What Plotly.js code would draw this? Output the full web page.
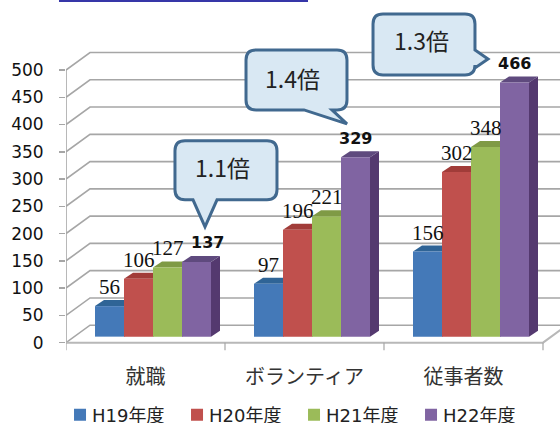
<!DOCTYPE html>
<html><head><meta charset="utf-8">
<script src="https://cdn.plot.ly/plotly-3.0.1.min.js"></script>
<style>html,body{margin:0;padding:0;background:#fff}</style>
</head><body><div id="chart" style="width:560px;height:423px"></div>
<script>
const categories = ['就職','ボランティア','従事者数'];
const seriesNames = ['H19年度','H20年度','H21年度','H22年度'];
const h19 = [56,97,156];
const h20 = [106,196,302];
const h21 = [127,221,348];
const h22 = [137,329,466];
const yTicks = [0,50,100,150,200,250,300,350,400,450,500];
const frontColors = ['#4479b8','#c0504d','#9bbb59','#8064a2'];
const topColors = ['#2f6496','#a13c39','#7f9a45','#5f4a7e'];
const sideColor = '#54396f';
const gridColor = '#a6a6a6';
const callouts = [
 {text:'1.1倍',cx:222,cy:167},{text:'1.4倍',cx:292,cy:78},{text:'1.3倍',cx:422,cy:40}
];
const all = [h19,h20,h21,h22];

// geometry
const W=560,H=423,L=66,T=40,S=0.546,yMin=-30,yMax=555,catW=159,xc0=145.5;
const plotH=(yMax-yMin)*S, B=H-T-plotH, plotW=W-L;
const xMin=-0.5,xMax=xMin+plotW/catW;
const px=p=>+((p-L)/plotW).toFixed(4), py=p=>+((T+plotH-p)/plotH).toFixed(4);
const wallDx=24/catW, wallDy=32;
const barBase=11, barW=29/catW, groupLeft=(95-xc0)/catW, dDx=9/catW, dDy=11;

const shapes=[];
function pathShape(path,o){shapes.push(Object.assign({type:'path',xref:'x',yref:'y',path:path,layer:'below'},o));}
const line={color:gridColor,width:1.6};
// wall grid
yTicks.forEach(v=>{
  pathShape(`M${xMin},${v} L${xMin+wallDx},${v+wallDy} L${xMax},${v+wallDy}`,{line:line});
});
// left vertical and floor
pathShape(`M${xMin},0 L${xMin},500`,{line:line});
pathShape(`M${xMin},0 L2.5,0 L${2.5+wallDx},${wallDy}`,{line:{color:'#b8b8b8',width:2}});
[-0.5,0.5,1.5,2.5].forEach(b=>pathShape(`M${b},0 L${b},-14`,{line:{color:gridColor,width:1.2}}));
// 3D faces under the front faces
all.forEach((vals,s)=>{
  vals.forEach((v,i)=>{
    const x0=i+groupLeft+s*barW,x1=x0+barW,t=barBase+v;
    pathShape(`M${x1},${barBase} L${x1+dDx},${barBase+dDy} L${x1+dDx},${t+dDy} L${x1},${t} Z`,
      {fillcolor:sideColor,line:{width:0}});
    pathShape(`M${x0},${t} L${x0+dDx},${t+dDy} L${x1+dDx},${t+dDy} L${x1},${t} Z`,
      {fillcolor:topColors[s],line:{width:0}});
  });
});
// callouts in pixel layout
function callout(l,r,t,b,tail){
  const q=10;
  let d=`M${px(l+q)},${py(t)} L${px(r-q)},${py(t)} Q${px(r)},${py(t)} ${px(r)},${py(t+q)} `;
  if(tail.side==='right') d+=tail.pts.map(p=>`L${px(p[0])},${py(p[1])} `).join('');
  d+=`L${px(r)},${py(b-q)} Q${px(r)},${py(b)} ${px(r-q)},${py(b)} `;
  if(tail.side==='bottom') d+=tail.pts.map(p=>`L${px(p[0])},${py(p[1])} `).join('');
  d+=`L${px(l+q)},${py(b)} Q${px(l)},${py(b)} ${px(l)},${py(b-q)} L${px(l)},${py(t+q)} Q${px(l)},${py(t)} ${px(l+q)},${py(t)} Z`;
  shapes.push({type:'path',xref:'paper',yref:'paper',path:d,layer:'above',fillcolor:'#d9e8f3',line:{color:'#41698f',width:3}});
}
callout(175,277,141,200,{side:'bottom',pts:[[217,200],[205,227],[193,200]]});
callout(246,347,50,110,{side:'bottom',pts:[[332,110],[347,124],[304,110]]});
callout(373,475,14,75,{side:'right',pts:[[475,50],[488,59],[475,68]]});
// header rule
shapes.push({type:'line',xref:'paper',yref:'paper',x0:px(59),x1:px(308),y0:py(0.5),y1:py(0.5),line:{color:'#3636a8',width:3}});

const traces=all.map((vals,s)=>({
  type:'bar',name:seriesNames[s],x:[0,1,2],y:vals,base:barBase,
  width:barW,offset:groupLeft+s*barW,
  marker:{color:frontColors[s],line:{width:0}},hoverinfo:'y+name'
}));

const annotations=[];
all.forEach((vals,s)=>vals.forEach((v,i)=>{
  const purple=s===3;
  annotations.push({xref:'x',yref:'y',x:i+groupLeft+(s+0.5)*barW,y:v+barBase,text:(purple?'<b>'+v+'</b>':''+v),
    showarrow:false,xanchor:'center',yanchor:'middle',yshift:19,xshift:(purple&&i===0)?11:0,
    font:purple?{family:'DejaVu Sans',size:16,color:'#111'}:{family:'Liberation Serif',size:21,color:'#111'}});
}));
callouts.forEach(c=>annotations.push({xref:'paper',yref:'paper',x:px(c.cx),y:py(c.cy),text:c.text,showarrow:false,
  xanchor:'center',yanchor:'middle',font:{family:'Noto Sans CJK JP',size:23,color:'#222'}}));

const layout={
  width:W,height:H,paper_bgcolor:'#fff',plot_bgcolor:'#fff',
  margin:{l:L,r:0,t:T,b:B,autoexpand:false},
  barmode:'overlay',showlegend:true,
  legend:{orientation:'h',xref:'paper',yref:'paper',x:px(60),xanchor:'left',y:py(397),yanchor:'top',
    entrywidth:72,entrywidthmode:'pixels',font:{family:'DejaVu Sans, Noto Sans CJK JP',size:18,color:'#222'},
    bgcolor:'rgba(0,0,0,0)',itemclick:false},
  xaxis:{range:[xMin,xMax],tickvals:[0,1,2],ticktext:categories,ticks:'',ticklabelstandoff:4,
    showgrid:false,zeroline:false,showline:false,tickfont:{family:'Noto Sans CJK JP',size:20,color:'#333'}},
  yaxis:{range:[yMin,yMax],tickvals:yTicks,ticktext:yTicks.map(String),ticks:'outside',ticklen:6,tickwidth:1.5,tickcolor:gridColor,
    ticklabelstandoff:12,showgrid:false,zeroline:false,showline:false,tickfont:{family:'DejaVu Sans',size:17,color:'#111'}},
  shapes:shapes,annotations:annotations
};
Plotly.newPlot('chart',traces,layout,{displayModeBar:false,staticPlot:true}).then(()=>{
  document.querySelectorAll('.legendtext').forEach(t=>t.setAttribute('x','32'));
});
</script></body></html>
